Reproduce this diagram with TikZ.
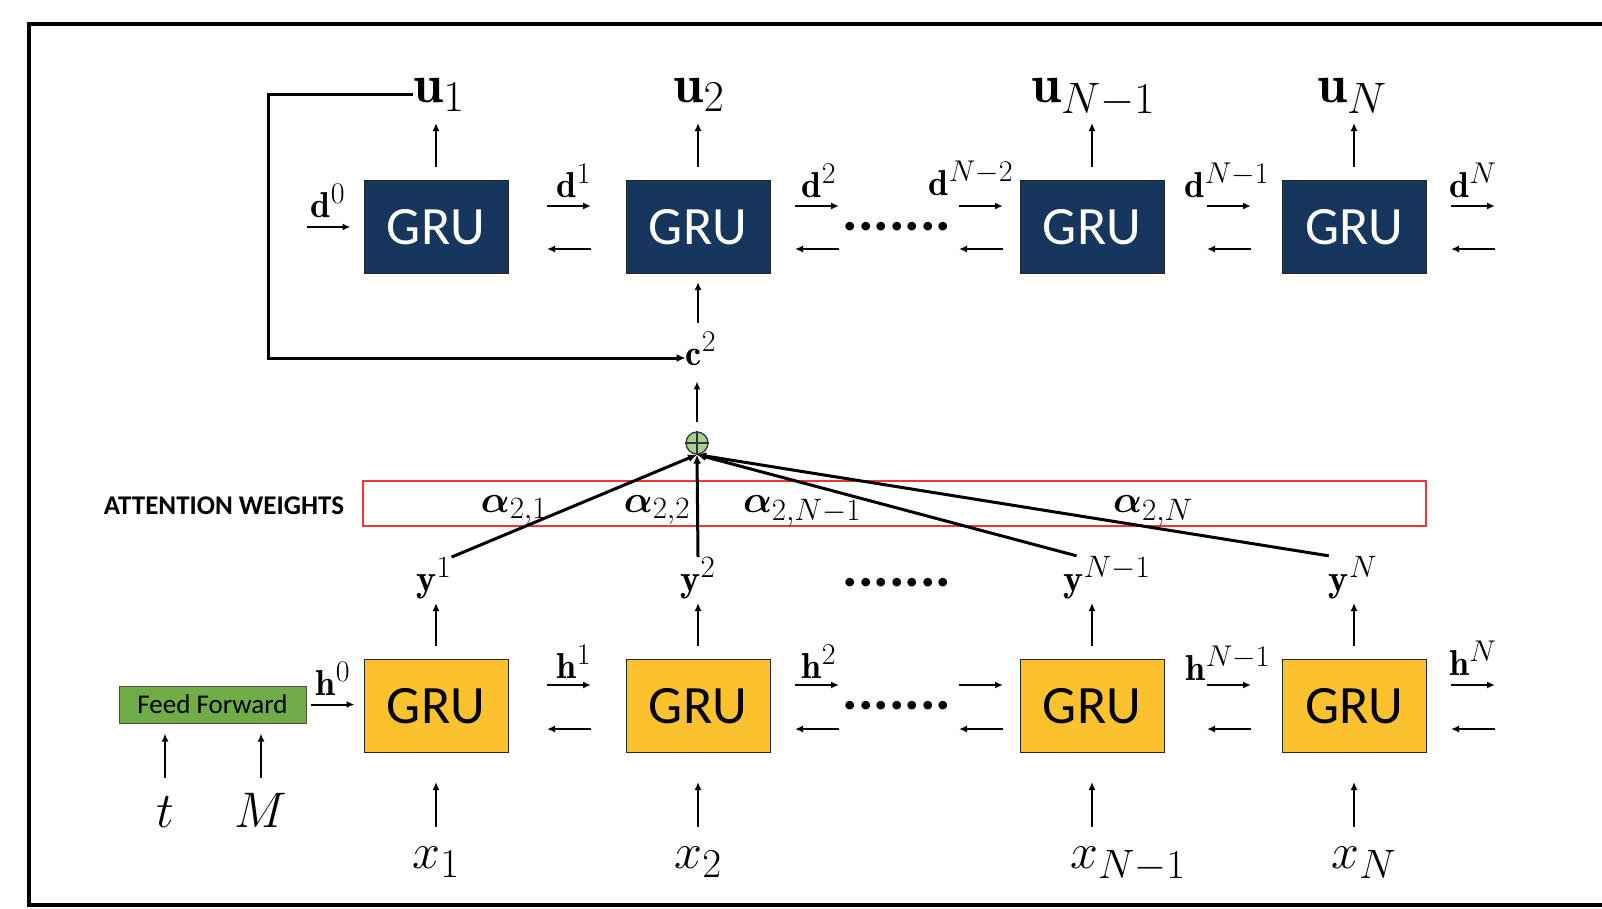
\RequirePackage{fix-cm}
\documentclass[tikz,border=0pt]{standalone}
\usepackage{amsmath}
\usepackage{bm}
\usepackage{fontspec}
\newfontfamily\carlito{Carlito}
\usetikzlibrary{arrows.meta,calc}
\DeclareMathSizes{36}{36}{30}{22}
\DeclareMathSizes{38}{38}{31}{23}
\DeclareMathSizes{50}{50}{41}{30}
\DeclareMathSizes{54}{54}{44}{32}
\definecolor{grublue}{HTML}{17365D}
\definecolor{gruyellow}{HTML}{F9C22E}
\definecolor{ffgreen}{HTML}{70AD47}
\definecolor{plusgreen}{HTML}{A9D18E}
\definecolor{attred}{HTML}{F03535}
\tikzset{
 arr/.style={line width=2pt,-{Latex[length=8pt,width=7pt]}},
 thickarr/.style={line width=3pt,-{Latex[length=9pt,width=8pt]}},
 topgru/.style={draw=black!85,line width=1pt,fill=grublue,text=white,minimum width=144pt,minimum height=93pt,inner sep=0pt,font=\carlito\fontsize{54}{54}\selectfont},
 botgru/.style={topgru,fill=gruyellow,text=black},
 biglab/.style={inner sep=0pt,anchor=base,font=\fontsize{50}{60}\selectfont},
 ulab/.style={inner sep=0pt,anchor=base,font=\fontsize{54}{60}\selectfont},
 midlab/.style={inner sep=0pt,anchor=base,font=\fontsize{36}{43}\selectfont},
 alab/.style={inner sep=0pt,anchor=base,font=\fontsize{38}{45}\selectfont},
 dotrow/.style={inner sep=0pt,font=\carlito\bfseries\fontsize{58}{58}\selectfont},
}
\begin{document}
\begin{tikzpicture}[x=1pt,y=-1pt]
\useasboundingbox (0,0) rectangle (1602,908);
\begin{scope}
\clip (0,0) rectangle (1602,908);
\draw[line width=4.5pt] (1620,24) -- (29,24) -- (29,905) -- (1620,905);
\end{scope}

% top GRU row
\node[topgru] (t1) at (436,227) {GRU};
\node[topgru] (t2) at (698,227) {GRU};
\node[topgru] (t3) at (1092,227) {GRU};
\node[topgru] (t4) at (1354,227) {GRU};
% bottom GRU row
\node[botgru] (b1) at (436,706) {GRU};
\node[botgru] (b2) at (698,706) {GRU};
\node[botgru] (b3) at (1092,706) {GRU};
\node[botgru] (b4) at (1354,706) {GRU};

% outputs u
\node[ulab] (u1) at (439,102) {$\mathbf{u}_1$};
\node[ulab] (u2) at (699,102) {$\mathbf{u}_2$};
\node[ulab] (u3) at (1093,102) {$\mathbf{u}_{N-1}$};
\node[ulab] (u4) at (1352,102) {$\mathbf{u}_N$};
\foreach \i in {1,2,3,4}{
  \draw[arr] ([yshift=13pt]t\i.north) -- ([yshift=57pt]t\i.north);
}

% inputs x
\node[biglab] (x1) at (436,868) {$x_1$};
\node[biglab] (x2) at (698,868) {$x_2$};
\node[biglab] (x3) at (1128,868) {$x_{N-1}$};
\node[biglab] (x4) at (1364,868) {$x_N$};
\foreach \i in {1,2,3,4}{
  \draw[arr] ([yshift=-74pt]b\i.south) -- ([yshift=-29pt]b\i.south);
  \draw[arr] ([yshift=13pt]b\i.north) -- ([yshift=56pt]b\i.north);
}

% y labels
\node[alab] (y1) at (434,591) {$\mathbf{y}^1$};
\node[alab] (y2) at (698,591) {$\mathbf{y}^2$};
\node[alab] (y3) at (1107,591) {$\mathbf{y}^{N-1}$};
\node[alab] (y4) at (1353,591) {$\mathbf{y}^N$};

% horizontal recurrent arrows
\foreach \a/\b in {547/591,795/839,959/1003,1207/1251,1451/1495}{
  \draw[arr] (\a,206) -- (\b,206);
  \draw[arr] (\b,249) -- (\a,249);
  \draw[arr] (\a,685) -- (\b,685);
  \draw[arr] (\b,729) -- (\a,729);
}
\draw[arr] ([xshift=-57pt]t1.west) -- ([xshift=-13pt]t1.west);

% d labels
\node[midlab] (d0) at (328,217) {$\mathbf{d}^0$};
\node[midlab] (d1) at (574,197) {$\mathbf{d}^1$};
\node[midlab] (d2) at (819,197) {$\mathbf{d}^2$};
\node[midlab] (d3) at (971,195) {$\mathbf{d}^{N-2}$};
\node[midlab] (d4) at (1227,197) {$\mathbf{d}^{N-1}$};
\node[midlab] (d5) at (1473,197) {$\mathbf{d}^N$};
% h labels
\node[midlab] (h0) at (333,695) {$\mathbf{h}^0$};
\node[midlab] (h1) at (574,678) {$\mathbf{h}^1$};
\node[midlab] (h2) at (819,678) {$\mathbf{h}^2$};
\node[midlab] (h4) at (1228,680) {$\mathbf{h}^{N-1}$};
\node[midlab] (h5) at (1473,675) {$\mathbf{h}^N$};

% dots
\node[dotrow] (dt1) at (897,227) {.......};
\node[dotrow] (dt2) at (897,583) {.......};
\node[dotrow] (dt3) at (897,706) {.......};

% feed forward
\node[draw=black!70,line width=1pt,fill=ffgreen,minimum width=187pt,minimum height=37pt,inner sep=0pt,font=\carlito\fontsize{27}{27}\selectfont] (ff) at (212.5,704.5) {Feed Forward};
\node[biglab] (tl) at (165,827) {$t$};
\node[biglab] (ml) at (261,827) {$M$};
\draw[arr] ($(ff.south -| tl)+(0,54)$) -- ($(ff.south -| tl)+(0,10)$);
\draw[arr] ($(ff.south -| ml)+(0,54)$) -- ($(ff.south -| ml)+(0,10)$);
\draw[arr] ([xshift=4pt]ff.east) -- ($(b1.west |- ff.east)+(-9,0)$);

% context c^2
\node[midlab] (c2) at (701,365) {$\mathbf{c}^2$};
\draw[arr] ([yshift=-49pt]t2.south) -- ([yshift=-8pt]t2.south);
\coordinate (lc) at (268,358);
\draw[thickarr] (u1.west) -| (lc) -- (c2.west |- lc);

% sum node
\node[circle,draw=black!80,line width=1.3pt,fill=plusgreen,minimum size=22pt,inner sep=0pt] (sum) at (697,443) {};
\draw[line width=1.3pt,black!80] (sum.north) -- (sum.south) (sum.west) -- (sum.east);
\draw[arr] ([yshift=9pt]sum.north) -- ([yshift=50pt]sum.north);

% attention weights box
\node[draw=attred,line width=2.5pt,minimum width=1063pt,minimum height=45pt,inner sep=0pt] (att) at (894.5,503.5) {};
\node[inner sep=0pt,anchor=base,font=\carlito\bfseries\fontsize{27}{27}\selectfont] (attl) at (224,514) {ATTENTION WEIGHTS};
\node[alab] (a1) at (514,512) {$\bm{\alpha}_{2,1}$};
\node[alab] (a2) at (657,512) {$\bm{\alpha}_{2,2}$};
\node[alab] (a3) at (802,512) {$\bm{\alpha}_{2,N-1}$};
\node[alab] (a4) at (1153,512) {$\bm{\alpha}_{2,N}$};

% lines into the sum
\draw[thickarr] (y1.north east) -- (sum.south);
\draw[thickarr] (y2.north) -- (sum.south);
\draw[thickarr] ([xshift=13pt]y3.north west) -- (sum.south);
\draw[thickarr] (y4.north west) -- (sum.south);
\end{tikzpicture}
\end{document}
